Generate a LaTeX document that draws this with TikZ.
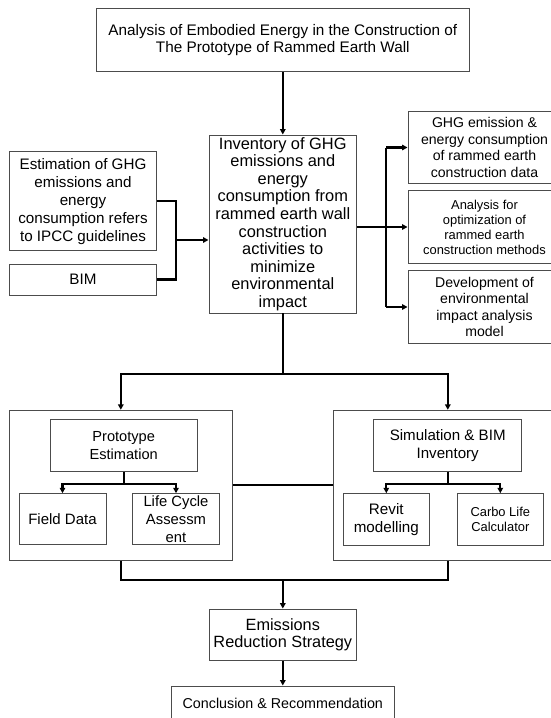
\documentclass[tikz,border=0pt]{standalone}
\usepackage{fontspec}
\setmainfont{Liberation Sans}
\usetikzlibrary{arrows.meta}

\newcommand{\fs}[2]{\fontsize{#1}{#2}\selectfont}

\begin{document}
\begin{tikzpicture}[
			x=1pt, y=-1pt,
			line join=miter,
			box/.style={draw=black!70, line width=0.9pt, inner sep=0pt, align=center},
			wire/.style={line width=2.2pt},
			link/.style={line width=2.2pt, -{Triangle[length=5.5pt,width=5.5pt]}}
			]
			% Frame
			\useasboundingbox (0,0) rectangle (551,718);
			\clip (0,0) rectangle (551,718);
			
			% Top and inventory
			\node[box, minimum width=372.3, minimum height=63.4, font={\fs{15.3}{17.7}}] (analysis) at (282.8,40)
				{Analysis of Embodied Energy in the Construction of\\The Prototype of Rammed Earth Wall};
			\node[box, minimum width=147.7, minimum height=178, font={\fs{16.4}{17.6}}] (inventory) at (282.8,224)
				{Inventory of GHG\\emissions and\\energy\\consumption from\\rammed earth wall\\construction\\activities to\\minimize\\environmental\\impact};
			
			% Inputs
			\node[box, minimum width=147.4, minimum height=99, font={\fs{15.2}{18}}] (estimation) at (83,201.2)
				{Estimation of GHG\\emissions and\\energy\\consumption refers\\to IPCC guidelines};
			\node[box, minimum width=147.4, minimum height=31, font={\fs{15.2}{18}}] (bim) at (83,279.5) {BIM};
			
			% Outputs
			\node[box, minimum width=153, minimum height=71.6, font={\fs{14.1}{16.7}}] (out1) at (484.5,147.5)
				{GHG emission \&\\energy consumption\\of rammed earth\\construction data};
			\node[box, minimum width=153, minimum height=72.6, font={\fs{12.9}{15}}] (out2) at (484.5,227)
				{Analysis for\\optimization of\\rammed earth\\construction methods};
			\node[box, minimum width=153, minimum height=72.6, font={\fs{14.1}{16.5}}] (out3) at (484.5,307)
				{Development of\\environmental\\impact analysis\\model};
			
			% Groups
			\node[box, minimum width=223, minimum height=150] (protogrp) at (120.8,485.3) {};
			\node[box, minimum width=229, minimum height=150] (simgrp) at (447.8,485.3) {};
			
			\node[box, minimum width=147.3, minimum height=51.6, font={\fs{14.6}{18.3}}] (proto) at (123.7,445.5)
				{Prototype\\Estimation};
			\node[box, minimum width=87, minimum height=51, font={\fs{15}{18}}] (field) at (62.5,519.2) {Field Data};
			\node[box, minimum width=86.6, minimum height=51, font={\fs{14.8}{18}}] (lca) at (176,519.2)
				{Life Cycle\\Assessm\\ent};
			
			\node[box, minimum width=148, minimum height=51.6, font={\fs{15.1}{18}}] (sim) at (447.7,445.5)
				{Simulation \& BIM\\Inventory};
			\node[box, minimum width=86, minimum height=51.6, font={\fs{15.2}{18.5}}] (revit) at (386.3,519.5)
				{Revit\\modelling};
			\node[box, minimum width=86, minimum height=51.6, font={\fs{12.9}{15.7}}] (carbo) at (500.3,519.5)
				{Carbo Life\\Calculator};
			
			% Bottom
			\node[box, minimum width=147.7, minimum height=51.3, font={\fs{16.3}{17.7}}] (emissions) at (282.8,634.7)
				{Emissions\\Reduction Strategy};
			\node[box, minimum width=222.3, minimum height=35, font={\fs{14.3}{17}}] (conclusion) at (282.8,703.5)
				{Conclusion \& Recommendation};
			
			% Connectors
			\draw[link] (analysis) -- (inventory);
			
			\coordinate (jin) at (176,240);
			\draw[wire] (estimation.east) -| (jin) |- (bim.east);
			\draw[link] (jin) -- (jin -| inventory.west);
			
			\coordinate (jout) at (386,227);
			\draw[wire] (inventory.east |- jout) -- (jout);
			\draw[wire] (jout |- out1.west) -- (jout |- out3.west);
			\foreach \k in {1,2,3}
			\draw[link] (jout |- out\k.west) -- (out\k.west);
			
			\coordinate (jsplit) at (282.8,374);
			\draw[wire] (inventory.south) -- (jsplit);
			\draw[link] (jsplit) -| (protogrp.north);
			\draw[link] (jsplit) -| (simgrp.north);
			\draw[wire] (protogrp.east) -- (simgrp.west);
			
			\draw[wire] (proto.south) -- ++(0,12.5) coordinate (jp);
			\draw[link] (jp) -| (field.north);
			\draw[link] (jp) -| (lca.north);
			\draw[wire] (sim.south) -- ++(0,12.5) coordinate (js);
			\draw[link] (js) -| (revit.north);
			\draw[link] (js) -| (carbo.north);
			
			\draw[wire] (protogrp.south) -- ++(0,19.4) -| (simgrp.south);
			\coordinate (jmerge) at (282.8,579.7);
			\draw[link] (jmerge) -- (emissions.north);
			\draw[link] (emissions) -- (conclusion);
		\end{tikzpicture}
\end{document}
